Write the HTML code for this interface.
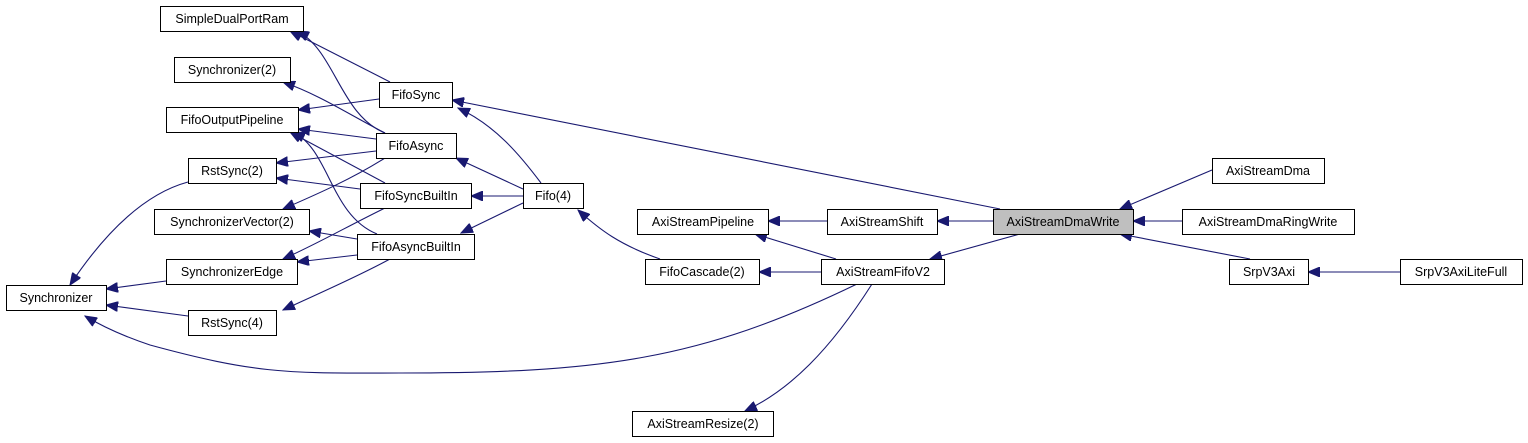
<!DOCTYPE html>
<html><head><meta charset="utf-8"><style>
body{margin:0;background:#fff;width:1528px;height:443px;overflow:hidden}
svg{display:block}
text{font-family:"Liberation Sans",sans-serif;font-size:12.5px;fill:#000}
</style></head><body>
<svg width="1528" height="443" viewBox="0 0 1528 443">
<defs><marker id="a" markerWidth="13" markerHeight="10" refX="12" refY="5" orient="auto" markerUnits="userSpaceOnUse"><path d="M0,0 L12,5 L0,10 Z" fill="#191970" stroke="#191970"/></marker></defs>
<g fill="none" stroke="#191970" stroke-width="1.1" marker-end="url(#a)">
<path d="M390,82 L290,31"/>
<path d="M385,133 C340,115 335,50 297,31"/>
<path d="M379,99 L298,110"/>
<path d="M385,133 C350,115 320,95 283,82"/>
<path d="M376,139 L298,129"/>
<path d="M376,151 L276,163"/>
<path d="M385,183 L290,132"/>
<path d="M377,234 C330,215 330,150 293,132"/>
<path d="M360,189 L276,178"/>
<path d="M385,158 C350,180 315,195 283,209"/>
<path d="M357,239 L309,231"/>
<path d="M385,208 C350,225 315,245 283,259"/>
<path d="M357,255 L297,262"/>
<path d="M390,259 C355,278 315,295 283,310"/>
<path d="M188,182 C140,195 100,240 70,285"/>
<path d="M166,281 L106,289"/>
<path d="M188,316 L106,305"/>
<path d="M857,284 C700,360 600,373 400,373 C290,373 260,375 150,345 C120,335 100,325 85,316"/>
<path d="M541,183 C520,155 495,125 458,108"/>
<path d="M523,189 L456,158"/>
<path d="M523,196 L471,196"/>
<path d="M523,203 L461,233"/>
<path d="M1000,209 L452,100"/>
<path d="M660,259 C620,245 600,230 578,210"/>
<path d="M827,221 L768,221"/>
<path d="M993,221 L937,221"/>
<path d="M836,259 L755,234"/>
<path d="M821,272 L759,272"/>
<path d="M1020,234 L930,259"/>
<path d="M872,284 C830,350 790,390 745,411"/>
<path d="M1212,170 L1120,209"/>
<path d="M1182,221 L1133,221"/>
<path d="M1250,259 L1120,234"/>
<path d="M1400,272 L1308,272"/>
</g>
<g fill="#fff" stroke="#000" stroke-width="1">
<rect x="160.5" y="6.5" width="143" height="25"/>
<rect x="174.5" y="57.5" width="116" height="25"/>
<rect x="166.5" y="107.5" width="132" height="25"/>
<rect x="188.5" y="158.5" width="88" height="25"/>
<rect x="154.5" y="209.5" width="155" height="25"/>
<rect x="166.5" y="259.5" width="131" height="25"/>
<rect x="6.5" y="285.5" width="100" height="25"/>
<rect x="188.5" y="310.5" width="88" height="25"/>
<rect x="379.5" y="82.5" width="73" height="25"/>
<rect x="376.5" y="133.5" width="80" height="25"/>
<rect x="360.5" y="183.5" width="111" height="25"/>
<rect x="357.5" y="234.5" width="117" height="25"/>
<rect x="523.5" y="183.5" width="60" height="25"/>
<rect x="637.5" y="209.5" width="131" height="25"/>
<rect x="827.5" y="209.5" width="110" height="25"/>
<rect x="645.5" y="259.5" width="114" height="25"/>
<rect x="821.5" y="259.5" width="123" height="25"/>
<rect x="632.5" y="411.5" width="141" height="25"/>
<rect x="993.5" y="209.5" width="140" height="25" fill="#bfbfbf"/>
<rect x="1212.5" y="158.5" width="112" height="25"/>
<rect x="1182.5" y="209.5" width="172" height="25"/>
<rect x="1229.5" y="259.5" width="79" height="25"/>
<rect x="1400.5" y="259.5" width="122" height="25"/>
</g>
<g text-anchor="middle">
<text x="232" y="23">SimpleDualPortRam</text>
<text x="232" y="74">Synchronizer(2)</text>
<text x="232" y="124">FifoOutputPipeline</text>
<text x="232" y="175">RstSync(2)</text>
<text x="232" y="226">SynchronizerVector(2)</text>
<text x="232" y="276">SynchronizerEdge</text>
<text x="56" y="302">Synchronizer</text>
<text x="232" y="327">RstSync(4)</text>
<text x="416" y="99">FifoSync</text>
<text x="416" y="150">FifoAsync</text>
<text x="416" y="200">FifoSyncBuiltIn</text>
<text x="416" y="251">FifoAsyncBuiltIn</text>
<text x="553" y="200">Fifo(4)</text>
<text x="703" y="226">AxiStreamPipeline</text>
<text x="882" y="226">AxiStreamShift</text>
<text x="702" y="276">FifoCascade(2)</text>
<text x="883" y="276">AxiStreamFifoV2</text>
<text x="703" y="428">AxiStreamResize(2)</text>
<text x="1063" y="226">AxiStreamDmaWrite</text>
<text x="1268" y="175">AxiStreamDma</text>
<text x="1268" y="226">AxiStreamDmaRingWrite</text>
<text x="1269" y="276">SrpV3Axi</text>
<text x="1461" y="276">SrpV3AxiLiteFull</text>
</g>
</svg>
</body></html>
